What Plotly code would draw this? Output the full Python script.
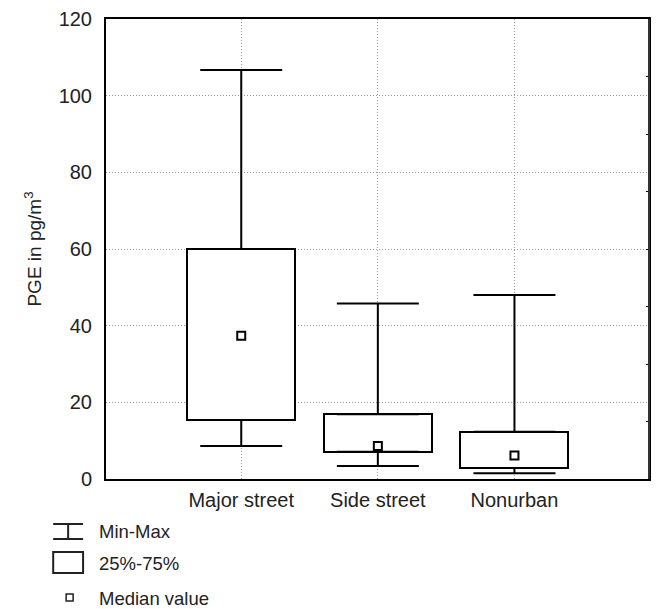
import plotly.graph_objects as go

categories = ["Major street", "Side street", "Nonurban"]
minimum = [8.6, 3.4, 1.5]
q1 = [15.4, 7.1, 2.9]
median = [37.4, 8.6, 6.1]
q3 = [60.0, 16.9, 12.3]
maximum = [106.7, 45.8, 48.0]
yticks = [0, 20, 40, 60, 80, 100, 120]
legend_labels = ["Min-Max", "25%-75%", "Median value"]

W, H = 658, 609
L, R, T, B = 106, 651, 19, 479
FONT = "Liberation Sans, Arial, sans-serif"

def px(x):
    return (x - L) / (R - L)

def py(y):
    return (B - y) / (B - T)

fig = go.Figure()

# boxes (25%-75%)
fig.add_trace(go.Bar(
    x=categories, y=[b - a for a, b in zip(q1, q3)], base=q1, width=0.79,
    marker=dict(color="white", line=dict(color="black", width=2)),
    hoverinfo="skip", showlegend=False))

# upper whisker
fig.add_trace(go.Scatter(
    x=categories, y=q3, mode="markers",
    marker=dict(size=1, opacity=0),
    error_y=dict(type="data", symmetric=False,
                 array=[b - a for a, b in zip(q3, maximum)],
                 arrayminus=[0, 0, 0], color="black", thickness=2, width=41),
    hoverinfo="skip", showlegend=False))

# lower whisker
fig.add_trace(go.Scatter(
    x=categories, y=q1, mode="markers",
    marker=dict(size=1, opacity=0),
    error_y=dict(type="data", symmetric=False,
                 array=[0, 0, 0],
                 arrayminus=[a - b for a, b in zip(q1, minimum)],
                 color="black", thickness=2, width=41),
    hoverinfo="skip", showlegend=False))

# median
fig.add_trace(go.Scatter(
    x=categories, y=median, mode="markers",
    marker=dict(symbol="square-open", size=8, color="black",
                line=dict(width=2, color="black")),
    hoverinfo="skip", showlegend=False))

# right-hand minor ticks (secondary axis)
fig.add_trace(go.Scatter(x=[categories[0]], y=[0], yaxis="y2", mode="markers",
                         marker=dict(opacity=0), hoverinfo="skip", showlegend=False))

fig.update_layout(
    width=W, height=H,
    margin=dict(l=L, r=W - R, t=T, b=H - B),
    paper_bgcolor="white", plot_bgcolor="white",
    font=dict(family=FONT, size=20, color="#222"),
    bargap=0,
    xaxis=dict(
        type="category", range=[-0.99, 2.985],
        showgrid=True, gridcolor="#999", griddash="1px,2px", gridwidth=1,
        ticks="outside", ticklen=2, tickcolor="rgba(0,0,0,0)",
        showline=True, linecolor="black", linewidth=2, mirror=True,
        tickfont=dict(size=20, color="#222"),
        zeroline=False, fixedrange=True),
    yaxis=dict(
        range=[0, 120], tickvals=yticks,
        showgrid=True, gridcolor="#999", griddash="1px,2px", gridwidth=1,
        ticks="outside", ticklen=8, tickcolor="rgba(0,0,0,0)",
        showline=True, linecolor="black", linewidth=2, mirror=True,
        tickfont=dict(size=20, color="#222"),
        title=dict(text="PGE in pg/m<sup>3</sup>", font=dict(size=19, color="#222"), standoff=12),
        zeroline=False, fixedrange=True),
    yaxis2=dict(
        overlaying="y", side="right", range=[0, 120], dtick=15,
        ticks="inside", ticklen=3, tickcolor="black", tickwidth=1,
        showticklabels=False, showgrid=False, zeroline=False,
        showline=False, fixedrange=True),
)

# frame + legend glyphs
shapes = []
ln = dict(color="#222", width=2)
shapes.append(dict(type="line", xref="paper", yref="paper", x0=1, x1=1, y0=0, y1=1,
                   line=dict(color="#333", width=2), layer="above"))
# Min-Max glyph
shapes.append(dict(type="line", xref="paper", yref="paper", x0=px(53), x1=px(83), y0=py(524), y1=py(524), line=ln))
shapes.append(dict(type="line", xref="paper", yref="paper", x0=px(53), x1=px(83), y0=py(539), y1=py(539), line=ln))
shapes.append(dict(type="line", xref="paper", yref="paper", x0=px(68), x1=px(68), y0=py(524), y1=py(539), line=ln))
# Box glyph
shapes.append(dict(type="rect", xref="paper", yref="paper", x0=px(53), x1=px(83), y0=py(552), y1=py(573), line=ln, fillcolor="white"))
# Median glyph
shapes.append(dict(type="rect", xref="paper", yref="paper", x0=px(66), x1=px(73), y0=py(594), y1=py(601), line=dict(color="#222", width=1.5), fillcolor="white"))
fig.update_layout(shapes=shapes)

for label, yc in zip(legend_labels, [531, 563, 598]):
    fig.add_annotation(text=label, xref="paper", yref="paper", x=px(97), y=py(yc),
                       xanchor="left", yanchor="middle", showarrow=False,
                       font=dict(size=18.5, color="#222", family=FONT))

fig.write_html("out.html", config={"displayModeBar": False},
               post_script=("document.documentElement.style.overflow='hidden';"
                            "document.body.style.margin='0';"
                            "document.body.style.overflow='hidden';"))
